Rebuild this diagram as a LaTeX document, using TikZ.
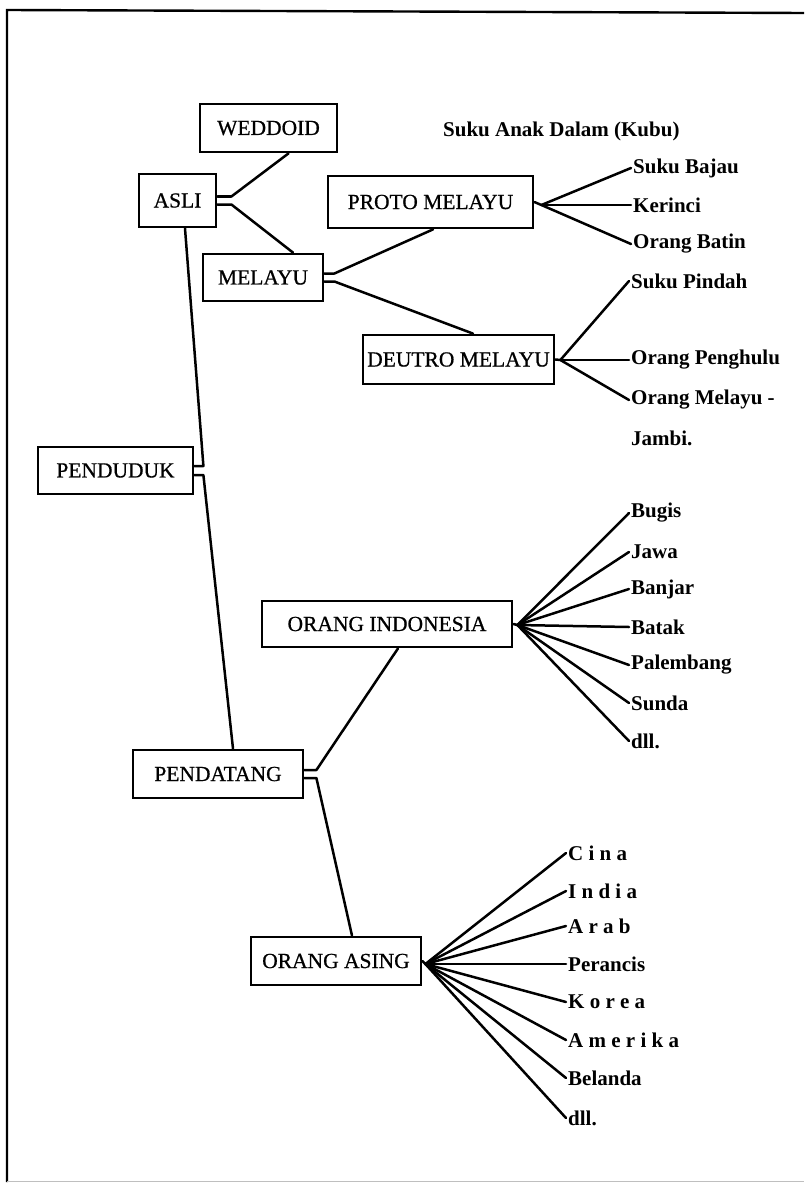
\documentclass[tikz,border=0pt]{standalone}
\usepackage{fontspec}
\setmainfont{Liberation Serif}
\newfontfamily\boxfont[FakeBold=0.7]{Liberation Serif}
\usetikzlibrary{calc}
\begin{document}
\begin{tikzpicture}[x=1pt,y=-1pt,
  box/.style={draw,line width=2.8pt,inner sep=0pt,font=\boxfont\fontsize{21.5}{25}\selectfont},
  leaf/.style={anchor=west,inner xsep=2pt,inner ysep=1pt,font=\fontsize{21}{25}\selectfont\bfseries},
  conn/.style={line width=2.5pt,line cap=round,line join=round},
  frame/.style={line width=2.4pt}]
\useasboundingbox (0,0) rectangle (804,1185);
% frame
\draw[frame] (7,1182) -- (7,10) -- (804,13);
\draw[line width=1pt,black!25] (7,1181) -- (804,1181);
% boxes
\node[box,minimum width=137pt,minimum height=48pt] (weddoid) at (268.5,128) {WEDDOID};
\node[box,minimum width=77pt,minimum height=53pt] (asli) at (177.5,200.5) {ASLI};
\node[box,minimum width=120pt,minimum height=47pt] (melayu) at (263,277.5) {MELAYU};
\node[box,minimum width=205pt,minimum height=52pt] (proto) at (430.5,202) {PROTO MELAYU};
\node[box,minimum width=191pt,minimum height=49pt] (deutro) at (458.5,359.5) {DEUTRO MELAYU};
\node[box,minimum width=155pt,minimum height=47pt] (penduduk) at (115.5,470.5) {PENDUDUK};
\node[box,minimum width=170pt,minimum height=48pt] (pendatang) at (218,774) {PENDATANG};
\node[box,minimum width=250pt,minimum height=46pt] (oi) at (387,624) {ORANG INDONESIA};
\node[box,minimum width=170pt,minimum height=48pt] (oa) at (336,961) {ORANG ASING};
% free label
\node[leaf] (kubu) at (441,131) {Suku Anak Dalam (Kubu)};
% leaves of PROTO MELAYU
\node[leaf] (bajau) at (631,168) {Suku Bajau};
\node[leaf] (kerinci) at (631,205) {Kerinci};
\node[leaf] (batin) at (631,244) {Orang Batin};
% leaves of DEUTRO MELAYU
\node[leaf] (pindah) at (629,281) {Suku Pindah};
\node[leaf] (penghulu) at (629,360) {Orang Penghulu};
\node[leaf] (mjambi) at (629,400) {Orang Melayu -};
\node[leaf] (jambi) at (629,438) {Jambi.};
% leaves of ORANG INDONESIA
\node[leaf] (bugis) at (629,513) {Bugis};
\node[leaf] (jawa) at (629,552) {Jawa};
\node[leaf] (banjar) at (629,589) {Banjar};
\node[leaf] (batak) at (629,627) {Batak};
\node[leaf] (palembang) at (629,665) {Palembang};
\node[leaf] (sunda) at (629,703) {Sunda};
\node[leaf] (dlla) at (629,741) {dll.};
% leaves of ORANG ASING
\node[leaf] (cina) at (566,853) {C i n a};
\node[leaf] (india) at (566,891) {I n d i a};
\node[leaf] (arab) at (566,926) {A r a b};
\node[leaf] (perancis) at (566,964) {Perancis};
\node[leaf] (korea) at (566,1002) {K o r e a};
\node[leaf] (amerika) at (566,1040) {A m e r i k a};
\node[leaf] (belanda) at (566,1078) {Belanda};
\node[leaf] (dllb) at (566,1118) {dll.};
% bracket connectors
\draw[conn] ($(asli.east)+(0,-4)$) -- ++(14,0) -- ($(weddoid.south)+(20,0)$);
\draw[conn] ($(asli.east)+(0,4)$) -- ++(14,0) -- ($(melayu.north)+(30,0)$);
\draw[conn] ($(penduduk.east)+(0,-4.5)$) -- ++(9,0) -- ($(asli.south)+(7.5,0)$);
\draw[conn] ($(penduduk.east)+(0,4.5)$) -- ++(9,0) -- ($(pendatang.north)+(15,0)$);
\draw[conn] ($(melayu.east)+(0,-4)$) -- ++(10,0) -- ($(proto.south)+(2.5,0)$);
\draw[conn] ($(melayu.east)+(0,4)$) -- ++(10,0) -- ($(deutro.north)+(14.5,0)$);
\draw[conn] ($(pendatang.east)+(0,-4)$) -- ++(12,0) -- ($(oi.south)+(11,0)$);
\draw[conn] ($(pendatang.east)+(0,4)$) -- ++(12,0) -- ($(oa.north)+(16,0)$);
% fans
\coordinate (pf) at ($(proto.east)+(7,3)$);
\draw[conn] (proto.east) -- (pf);
\foreach \t in {bajau,kerinci,batin} \draw[conn] (pf) -- (\t.west);
\coordinate (df) at ($(deutro.east)+(5,0.5)$);
\draw[conn] (deutro.east) -- (df);
\foreach \t in {pindah,penghulu,mjambi} \draw[conn] (df) -- (\t.west);
\coordinate (of) at ($(oi.east)+(4,1)$);
\draw[conn] (oi.east) -- (of);
\foreach \t in {bugis,jawa,banjar,batak,palembang,sunda,dlla} \draw[conn] (of) -- (\t.west);
\coordinate (af) at ($(oa.east)+(3,3)$);
\draw[conn] (oa.east) -- (af);
\foreach \t in {cina,india,arab,perancis,korea,amerika,belanda,dllb} \draw[conn] (af) -- (\t.west);
\end{tikzpicture}
\end{document}
